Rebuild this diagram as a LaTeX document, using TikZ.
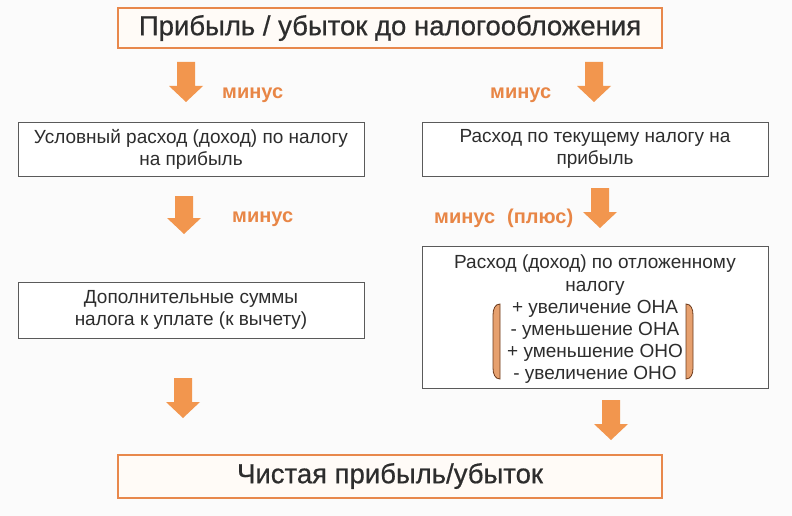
\documentclass[tikz,border=0pt]{standalone}
\usepackage{fontspec}
\setmainfont{Liberation Sans}
\definecolor{arrowc}{RGB}{242,150,78}
\definecolor{labelc}{RGB}{232,134,70}
\definecolor{framec}{RGB}{232,136,76}
\definecolor{boxline}{RGB}{90,90,90}
\definecolor{txt}{RGB}{45,45,45}
\definecolor{brfill}{RGB}{230,160,110}
\definecolor{brdark}{RGB}{110,60,30}
\tikzset{
  mainbox/.style={draw=framec, line width=2pt, fill=white!97!orange, text=txt, font=\fontsize{27.5}{32}\selectfont\addfontfeature{FakeBold=0.6}, inner sep=0pt},
  plainbox/.style={draw=boxline, line width=0.9pt, fill=white, text=txt, align=center, font=\fontsize{19}{22}\selectfont, inner sep=0pt},
  lbl/.style={text=labelc, font=\bfseries\fontsize{20}{24}\selectfont, inner sep=0pt},
  arrowfill/.style={fill=arrowc},
  bracket/.style={fill=brfill, draw=brdark, line width=0.8pt}
}
\newcommand\blockarrow[3]{%
  \fill[arrowfill] ({#1-9},#2) -- ({#1+9},#2) -- ({#1+9},{#3-16}) -- ({#1+17},{#3-16}) -- (#1,#3) -- ({#1-17},{#3-16}) -- ({#1-9},{#3-16}) -- cycle;}
\begin{document}
\begin{tikzpicture}[x=1pt,y=-1pt]
\useasboundingbox (0,0) rectangle (792,516);
\fill[white!98.5!black] (0,0) rectangle (792,516);
% main boxes
\node[mainbox, minimum width=544, minimum height=40] (top) at (390,28) {Прибыль / убыток до налогообложения};
\node[mainbox, minimum width=544, minimum height=43] (bottom) at (390,476) {Чистая прибыль/убыток};
% plain boxes
\node[plainbox, minimum width=346, minimum height=54] (l1) at (191,149) {Условный расход (доход) по налогу\\на прибыль};
\node[plainbox, minimum width=346, minimum height=54] (r1) at (595,149) {Расход по текущему налогу на\\прибыль};
\node[plainbox, minimum width=346, minimum height=56] (l2) at (191,310) {Дополнительные суммы\\налога к уплате (к вычету)};
\node[plainbox, minimum width=346, minimum height=142] (r2) at (595,317) {};
\node[text=txt, align=center, font=\fontsize{19}{22.2}\selectfont, inner sep=0pt, anchor=north] (r2t) at (595,255) {Расход (доход) по отложенному\\налогу\\+ увеличение ОНА\\- уменьшение ОНА\\+ уменьшение ОНО\\- увеличение ОНО};
% brackets
\filldraw[bracket] (500,304) .. controls (495,304) and (493,309) .. (493,315) -- (493,368) .. controls (493,374) and (495,379) .. (500,379) -- cycle;
\filldraw[bracket] (686,304) .. controls (691,304) and (693,309) .. (693,315) -- (693,368) .. controls (693,374) and (691,379) .. (686,379) -- cycle;
% arrows
\blockarrow{186}{62}{102}
\blockarrow{594}{62}{102}
\blockarrow{184}{196}{234}
\blockarrow{600}{188}{228}
\blockarrow{183}{378}{418}
\blockarrow{611}{400}{440}
% labels
\node[lbl, anchor=west] (m1) at (222,95) {минус};
\node[lbl, anchor=west] (m2) at (490,95) {минус};
\node[lbl, anchor=west] (m3) at (232,219) {минус};
\node[lbl, anchor=west] (m4) at (434,218) {минус\hspace{12pt}(плюс)};
\end{tikzpicture}
\end{document}
